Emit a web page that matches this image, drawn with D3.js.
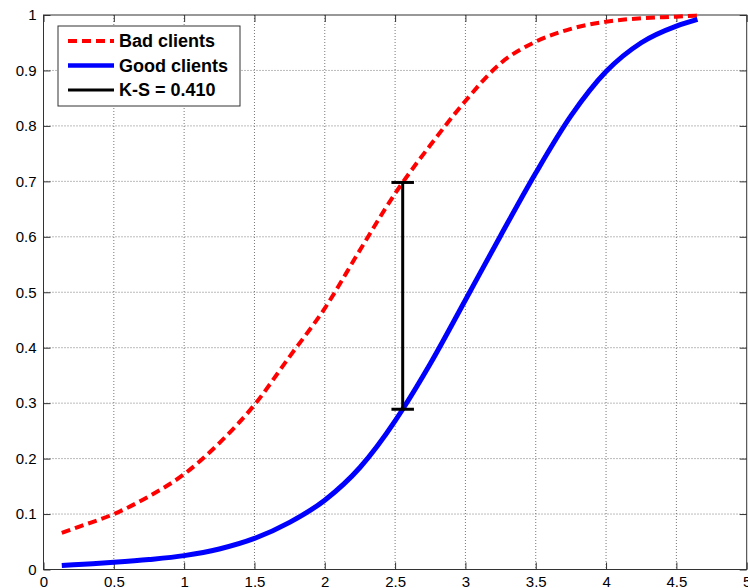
<!DOCTYPE html>
<meta charset="utf-8">
<style>
body { margin: 0; background: #fff; }
svg { display: block; font-family: "Liberation Sans", Arial, sans-serif; }
.grid line { stroke: #777; stroke-dasharray: 1,2; }
</style>
<svg width="748" height="588"></svg>
<script src="https://d3js.org/d3.v7.min.js"></script>
<script>

var xs = [0.13, 0.25, 0.5, 0.75, 1.0, 1.25, 1.5, 1.75, 2.0, 2.25, 2.5, 2.554, 2.75, 3.0, 3.25, 3.5, 3.75, 4.0, 4.25, 4.5, 4.65];
var bad = [0.066, 0.077, 0.100, 0.132, 0.172, 0.228, 0.297, 0.384, 0.471, 0.576, 0.678, 0.698, 0.765, 0.845, 0.913, 0.952, 0.975, 0.988, 0.994, 0.997, 0.999];
var good = [0.007, 0.009, 0.013, 0.018, 0.025, 0.037, 0.056, 0.085, 0.125, 0.184, 0.268, 0.289, 0.371, 0.486, 0.602, 0.715, 0.818, 0.898, 0.950, 0.980, 0.992];

// K-S marker
var ksX = 2.554, ksTop = 0.698, ksBottom = 0.289;
var ksLabel = "K-S = 0.410";

var xTicks = [0, 0.5, 1, 1.5, 2, 2.5, 3, 3.5, 4, 4.5, 5];
var yTicks = [0, 0.1, 0.2, 0.3, 0.4, 0.5, 0.6, 0.7, 0.8, 0.9, 1];

var series = [
  {name: "Bad clients", values: bad, color: "#ff0000", width: 4, dash: "9,5"},
  {name: "Good clients", values: good, color: "#0000ff", width: 5, dash: null},
  {name: ksLabel, values: null, color: "#000", width: 3, dash: null}
];

var svg = d3.select("svg"),
    margin = {top: 15, right: 1.3, bottom: 18.5, left: 43.5},
    width = +svg.attr("width") - margin.left - margin.right,
    height = +svg.attr("height") - margin.top - margin.bottom;

var x = d3.scaleLinear().domain([0, 5]).range([0, width]);
var y = d3.scaleLinear().domain([0, 1]).range([height, 0]);

var g = svg.append("g").attr("transform", "translate(" + margin.left + "," + margin.top + ")");

// grid (dotted)
g.append("g").attr("class", "grid")
  .selectAll("line").data(xTicks.slice(1, -1)).enter().append("line")
    .attr("x1", d => x(d)).attr("x2", d => x(d))
    .attr("y1", 0).attr("y2", height);
g.append("g").attr("class", "grid")
  .selectAll("line").data(yTicks.slice(1, -1)).enter().append("line")
    .attr("y1", d => y(d)).attr("y2", d => y(d))
    .attr("x1", 0).attr("x2", width);

// axes, ticks pointing inward on all four sides
function styleAxis(sel) {
  sel.select(".domain").remove();
  sel.selectAll(".tick line").attr("stroke", "#333");
  sel.selectAll("text").attr("fill", "#000").style("font-size", "15px");
}
g.append("g").attr("transform", "translate(0," + height + ")")
  .call(d3.axisBottom(x).tickValues(xTicks).tickSize(-7).tickPadding(7).tickFormat(d3.format("")))
  .call(styleAxis);
g.append("g")
  .call(d3.axisTop(x).tickValues(xTicks).tickSize(-7).tickFormat(""))
  .call(styleAxis);
g.append("g")
  .call(d3.axisLeft(y).tickValues(yTicks).tickSize(-7).tickPadding(7).tickFormat(d3.format("")))
  .call(styleAxis);
g.append("g").attr("transform", "translate(" + width + ",0)")
  .call(d3.axisRight(y).tickValues(yTicks).tickSize(-7).tickFormat(""))
  .call(styleAxis);

g.append("rect")
  .attr("width", width).attr("height", height)
  .attr("fill", "none").attr("stroke", "#333").attr("stroke-width", 1);

// curves
var line = d3.line()
  .x(d => x(d[0]))
  .y(d => y(d[1]))
  .curve(d3.curveMonotoneX);

series.filter(s => s.values).forEach(function(s) {
  g.append("path")
    .datum(xs.map((v, i) => [v, s.values[i]]))
    .attr("fill", "none")
    .attr("stroke", s.color)
    .attr("stroke-width", s.width)
    .attr("stroke-dasharray", s.dash)
    .attr("d", line);
});

// K-S bar
var cap = 0.08;
var ks = g.append("g").attr("stroke", "#000").attr("stroke-width", 3);
ks.append("line").attr("x1", x(ksX)).attr("x2", x(ksX)).attr("y1", y(ksTop)).attr("y2", y(ksBottom));
ks.append("line").attr("x1", x(ksX - cap)).attr("x2", x(ksX + cap)).attr("y1", y(ksTop)).attr("y2", y(ksTop));
ks.append("line").attr("x1", x(ksX - cap)).attr("x2", x(ksX + cap)).attr("y1", y(ksBottom)).attr("y2", y(ksBottom));

// legend
var legend = svg.append("g").attr("transform", "translate(58,26)");
legend.append("rect")
  .attr("width", 182).attr("height", 80)
  .attr("fill", "#fff").attr("stroke", "#333").attr("stroke-width", 1);
var row = legend.selectAll("g.row").data(series).enter().append("g")
  .attr("class", "row")
  .attr("transform", (d, i) => "translate(0," + (15 + i * 24.5) + ")");
row.append("line")
  .attr("x1", 10).attr("x2", 56)
  .attr("stroke", d => d.color)
  .attr("stroke-width", d => d.width === 5 ? 4.5 : d.width === 3 ? 3 : 4)
  .attr("stroke-dasharray", d => d.dash);
row.append("text")
  .attr("x", 61).attr("y", 6)
  .style("font-size", "18px")
  .style("font-weight", "bold")
  .text(d => d.name);

</script>
